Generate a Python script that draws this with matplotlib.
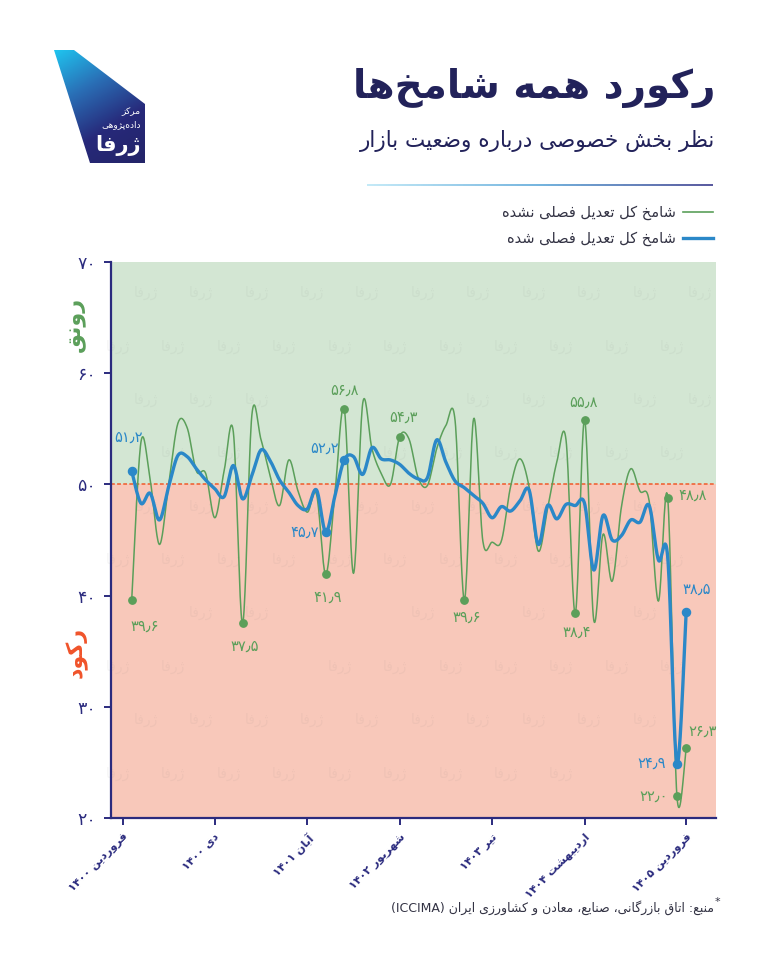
import re
import numpy as np
import matplotlib
matplotlib.use('Agg')
import matplotlib.pyplot as plt
from matplotlib.collections import LineCollection
from matplotlib.patches import Polygon
from matplotlib.colors import LinearSegmentedColormap

# month index, 0 = Farvardin 1400 ... 60 = Farvardin 1405
months = np.arange(61)

# شامخ کل تعدیل فصلی نشده
unadjusted = [39.6, 53.8, 50.4, 44.6, 50.0, 55.5, 55.1, 51.2, 51.0, 47.0,
              51.2, 54.7, 37.5, 56.2, 54.0, 50.7, 48.1, 52.2, 49.4, 47.5,
              49.1, 41.9, 49.3, 56.8, 42.0, 57.3, 53.2, 51.0, 50.0, 54.3,
              54.1, 50.6, 49.9, 53.2, 55.3, 55.7, 39.6, 55.9, 44.9, 44.8,
              44.9, 49.8, 52.3, 49.8, 44.0, 47.8, 52.0, 54.0, 38.4, 55.8,
              37.8, 45.5, 41.3, 48.0, 51.4, 49.4, 48.5, 39.5, 48.8, 22.0,
              26.3]

# شامخ کل تعدیل فصلی شده
adjusted = [51.2, 48.3, 49.2, 46.8, 49.8, 52.6, 52.5, 51.4, 50.4, 49.6,
            48.9, 51.7, 48.7, 50.8, 53.1, 52.1, 50.4, 49.3, 48.1, 47.8,
            49.5, 45.7, 49.0, 52.2, 52.5, 50.9, 53.3, 52.3, 52.2, 51.8,
            51.0, 50.5, 50.6, 54.0, 52.0, 50.3, 49.7, 49.0, 48.3, 47.0,
            48.0, 47.6, 48.5, 49.5, 44.6, 48.1, 46.9, 48.2, 48.1, 48.3,
            42.3, 47.2, 45.0, 45.4, 46.8, 46.6, 48.1, 43.2, 43.5, 24.9,
            38.5]

tick_pos = [-0.9, 9, 19, 29, 39, 49, 60]
tick_labels = ['فروردین ۱۴۰۰', 'دی ۱۴۰۰', 'آبان ۱۴۰۱', 'شهریور ۱۴۰۲',
               'تیر ۱۴۰۳', 'اردیبهشت ۱۴۰۴', 'فروردین ۱۴۰۵']

green_marks = [0, 12, 21, 23, 29, 36, 48, 49, 58, 59, 60]
blue_marks = [0, 21, 23, 59, 60]

# ---- persian shaping (no reshaper lib available) ----
FORMS = {
    'ء': ('\uFE80',),
    'آ': ('\uFE81', '\uFE82'), 'ا': ('\uFE8D', '\uFE8E'),
    'ب': ('\uFE8F', '\uFE90', '\uFE91', '\uFE92'),
    'پ': ('\uFB56', '\uFB57', '\uFB58', '\uFB59'),
    'ت': ('\uFE95', '\uFE96', '\uFE97', '\uFE98'),
    'ث': ('\uFE99', '\uFE9A', '\uFE9B', '\uFE9C'),
    'ج': ('\uFE9D', '\uFE9E', '\uFE9F', '\uFEA0'),
    'چ': ('\uFB7A', '\uFB7B', '\uFB7C', '\uFB7D'),
    'ح': ('\uFEA1', '\uFEA2', '\uFEA3', '\uFEA4'),
    'خ': ('\uFEA5', '\uFEA6', '\uFEA7', '\uFEA8'),
    'د': ('\uFEA9', '\uFEAA'), 'ذ': ('\uFEAB', '\uFEAC'),
    'ر': ('\uFEAD', '\uFEAE'), 'ز': ('\uFEAF', '\uFEB0'),
    'ژ': ('\uFB8A', '\uFB8B'),
    'س': ('\uFEB1', '\uFEB2', '\uFEB3', '\uFEB4'),
    'ش': ('\uFEB5', '\uFEB6', '\uFEB7', '\uFEB8'),
    'ص': ('\uFEB9', '\uFEBA', '\uFEBB', '\uFEBC'),
    'ض': ('\uFEBD', '\uFEBE', '\uFEBF', '\uFEC0'),
    'ط': ('\uFEC1', '\uFEC2', '\uFEC3', '\uFEC4'),
    'ظ': ('\uFEC5', '\uFEC6', '\uFEC7', '\uFEC8'),
    'ع': ('\uFEC9', '\uFECA', '\uFECB', '\uFECC'),
    'غ': ('\uFECD', '\uFECE', '\uFECF', '\uFED0'),
    'ف': ('\uFED1', '\uFED2', '\uFED3', '\uFED4'),
    'ق': ('\uFED5', '\uFED6', '\uFED7', '\uFED8'),
    'ک': ('\uFB8E', '\uFB8F', '\uFB90', '\uFB91'),
    'گ': ('\uFB92', '\uFB93', '\uFB94', '\uFB95'),
    'ل': ('\uFEDD', '\uFEDE', '\uFEDF', '\uFEE0'),
    'م': ('\uFEE1', '\uFEE2', '\uFEE3', '\uFEE4'),
    'ن': ('\uFEE5', '\uFEE6', '\uFEE7', '\uFEE8'),
    'و': ('\uFEED', '\uFEEE'),
    'ه': ('\uFEE9', '\uFEEA', '\uFEEB', '\uFEEC'),
    'ی': ('\uFBFC', '\uFBFD', '\uFBFE', '\uFBFF'),
}
LAM_ALEF = {'ا': ('\uFEFB', '\uFEFC'), 'آ': ('\uFEF5', '\uFEF6')}


def joins_next(c):
    return c in FORMS and len(FORMS[c]) == 4


def shape(s):
    res = []
    i = 0
    while i < len(s):
        c = s[i]
        jp = i > 0 and joins_next(s[i - 1])
        if c == 'ل' and i + 1 < len(s) and s[i + 1] in LAM_ALEF:
            iso, fin = LAM_ALEF[s[i + 1]]
            res.append(fin if jp else iso)
            i += 2
            continue
        if c in FORMS:
            f = FORMS[c]
            jn = len(f) == 4 and i + 1 < len(s) and s[i + 1] in FORMS
            if len(f) == 1:
                res.append(f[0])
            elif jp and jn:
                res.append(f[3])
            elif jp:
                res.append(f[1])
            elif jn:
                res.append(f[2])
            else:
                res.append(f[0])
        elif c != '\u200c':
            res.append(c)
        i += 1
    return ''.join(res)


LTR = r'[0-9A-Za-z\u06F0-\u06F9\u066B]+'


def fa(s):
    t = shape(s)
    runs = re.findall(LTR + r'|[^0-9A-Za-z\u06F0-\u06F9\u066B]+', t)
    out = []
    for r in reversed(runs):
        out.append(r if re.fullmatch(LTR, r) else r[::-1])
    return ''.join(out)


def fnum(v):
    s = f'{v:.1f}'
    return s.translate(str.maketrans('0123456789.', '۰۱۲۳۴۵۶۷۸۹٫'))


def smooth(x, y, n=20):
    # excel-like smoothed line (catmull-rom through the points)
    x = np.asarray(x, float)
    y = np.asarray(y, float)
    px = np.concatenate([[x[0]], x, [x[-1]]])
    py = np.concatenate([[y[0]], y, [y[-1]]])
    xs, ys = [], []
    t = np.linspace(0, 1, n)
    for i in range(1, len(px) - 2):
        p0 = np.array([px[i], py[i]])
        p3 = np.array([px[i + 1], py[i + 1]])
        c1 = p0 + (p3 - np.array([px[i - 1], py[i - 1]])) / 6
        c2 = p3 - (np.array([px[i + 2], py[i + 2]]) - p0) / 6
        b = ((1 - t) ** 3)[:, None] * p0 + (3 * (1 - t) ** 2 * t)[:, None] * c1 \
            + (3 * (1 - t) * t ** 2)[:, None] * c2 + (t ** 3)[:, None] * p3
        xs.append(b[:, 0])
        ys.append(b[:, 1])
    return np.concatenate(xs), np.concatenate(ys)


plt.rcParams['font.family'] = ['DejaVu Sans']
NAVY = '#2b2b7e'
GREEN = '#5b9f5a'
BLUE = '#2b88c8'
W, H = 768, 960

fig = plt.figure(figsize=(7.68, 9.6), dpi=100)

# decoration layer in pixel coords
deco = fig.add_axes([0, 0, 1, 1])
deco.set_xlim(0, W)
deco.set_ylim(H, 0)
deco.axis('off')

# logo
logo = Polygon([(54, 50), (74, 50), (145, 104), (145, 163), (90, 163)],
               closed=True, facecolor='none', edgecolor='none')
deco.add_patch(logo)
gx, gy = np.meshgrid(np.linspace(0, 1, 100), np.linspace(0, 1, 120))
grad = 0.35 * gx + 0.75 * gy
cm_logo = LinearSegmentedColormap.from_list('lg', ['#1fc4ef', '#2a6fb6', '#27297a', '#232468'])
im = deco.imshow(grad, extent=(54, 145, 163, 50), cmap=cm_logo, vmin=0, vmax=1.1,
                 aspect='auto', zorder=2)
im.set_clip_path(logo)
deco.text(141, 112, fa('مرکز'), color='white', fontsize=6.5, ha='right', va='center', zorder=3)
deco.text(141, 125, fa('داده‌پژوهی'), color='white', fontsize=6.5, ha='right', va='center', zorder=3)
deco.text(141, 145, fa('ژرفا'), color='white', fontsize=15, fontweight='bold',
          ha='right', va='center', zorder=3)

# title block
deco.text(715, 88, fa('رکورد همه شامخ‌ها'), color='#22225a', fontsize=28,
          fontweight='bold', ha='right', va='center')
deco.text(715, 141, fa('نظر بخش خصوصی درباره وضعیت بازار'), color='#22225a',
          fontsize=15.5, ha='right', va='center')

lx = np.linspace(367, 713, 200)
segs = [[(lx[i], 185), (lx[i + 1], 185)] for i in range(len(lx) - 1)]
cm_line = LinearSegmentedColormap.from_list('ln', ['#b9e6f6', '#5aa6d8', '#3a3a8c'])
deco.add_collection(LineCollection(segs, colors=cm_line(np.linspace(0, 1, len(segs))),
                                   linewidths=1.2))

# legend
deco.plot([683, 713], [212, 212], color=GREEN, lw=1.2)
deco.plot([683, 713], [238, 238], color=BLUE, lw=2.4)
deco.text(676, 212, fa('شامخ کل تعدیل فصلی نشده'), color='#333344', fontsize=10.5,
          ha='right', va='center')
deco.text(676, 238, fa('شامخ کل تعدیل فصلی شده'), color='#333344', fontsize=10.5,
          ha='right', va='center')

# side labels
deco.text(76, 324, fa('رونق'), color=GREEN, fontsize=16, fontweight='bold',
          rotation=90, ha='center', va='center')
deco.text(76, 652, fa('رکود'), color='#f0532a', fontsize=16, fontweight='bold',
          rotation=90, ha='center', va='center')

# source
deco.text(714, 908, '(ICCIMA) ' + fa('منبع: اتاق بازرگانی، صنایع، معادن و کشاورزی ایران'),
          color='#333344', fontsize=9, ha='right', va='center')
deco.text(715, 902, '*', color='#333344', fontsize=8, ha='left', va='center')

# main chart
ax = fig.add_axes([111 / W, (H - 818) / H, 605 / W, 556 / H])
ax.set_facecolor('none')
ax.set_xlim(-2.24, 63.23)
ax.set_ylim(20, 70)
ax.axhspan(50, 70, color='#d3e6d3', zorder=0, lw=0)
ax.axhspan(20, 50, color='#f8c8ba', zorder=0, lw=0)

green_off = {0: (13, -26, 'center'), 12: (2, -23, 'center'), 21: (2, -23, 'center'),
             23: (0, 19, 'center'), 29: (4, 19, 'center'), 36: (2, -17, 'center'),
             48: (1, -19, 'center'), 49: (-1, 18, 'center'), 58: (11, 2, 'left'),
             59: (-9, 0, 'right'), 60: (2, 17, 'left')}
blue_off = {0: (-3, 34, 'center'), 21: (-7, 0, 'right'), 23: (-5, 12, 'right'),
            59: (-11, 0, 'right'), 60: (11, 23, 'center')}

# label centres in data units, so the watermark keeps clear of them
lab_xy = []
for vals, offs in ((unadjusted, green_off), (adjusted, blue_off)):
    for i, (dx, dy, ha) in offs.items():
        shift = {'left': 16, 'right': -16, 'center': 0}[ha]
        lab_xy.append((months[i] + (dx + shift) / 9.24, vals[i] + dy / 11.12))

# faint watermark of the logo word
for r, yy in enumerate(np.arange(24, 70, 4.8)):
    for xx in np.arange(-1.5 + (r % 2) * 3, 63, 6):
        if any(abs(xx - lx_) < 4.5 and abs(yy - ly_) < 2.2 for lx_, ly_ in lab_xy):
            continue
        ax.text(xx, yy, fa('ژرفا'), color='#7a7a7a', alpha=0.07, fontsize=10,
                ha='center', va='center', zorder=0.5)

ax.axhline(50, color='#f05a2a', lw=1.1, ls=(0, (2.5, 1.5)), zorder=1)

sx, sy = smooth(months, unadjusted)
ax.plot(sx, sy, color=GREEN, lw=1.1, zorder=2)
bx, by = smooth(months, adjusted)
ax.plot(bx, by, color=BLUE, lw=2.4, zorder=3, solid_capstyle='round')

ax.scatter([months[i] for i in green_marks], [unadjusted[i] for i in green_marks],
           s=28, color=GREEN, zorder=4)
ax.scatter([months[i] for i in blue_marks], [adjusted[i] for i in blue_marks],
           s=34, color=BLUE, zorder=5)

for i, (dx, dy, ha) in green_off.items():
    ax.annotate(fnum(unadjusted[i]), (months[i], unadjusted[i]), xytext=(dx, dy),
                textcoords='offset pixels', ha=ha, va='center', color=GREEN,
                fontsize=10.5, zorder=6)
for i, (dx, dy, ha) in blue_off.items():
    ax.annotate(fnum(adjusted[i]), (months[i], adjusted[i]), xytext=(dx, dy),
                textcoords='offset pixels', ha=ha, va='center', color=BLUE,
                fontsize=10.5, zorder=6)

for s in ['top', 'right']:
    ax.spines[s].set_visible(False)
for s in ['left', 'bottom']:
    ax.spines[s].set_color(NAVY)
    ax.spines[s].set_linewidth(1.6)

yt = [20, 30, 40, 50, 60, 70]
ax.set_yticks(yt)
ax.set_yticklabels([str(v).translate(str.maketrans('0123456789', '۰۱۲۳۴۵۶۷۸۹')) for v in yt],
                   color=NAVY, fontsize=12.5)
ax.tick_params(axis='y', length=5, width=1.4, color=NAVY, pad=6)
ax.set_xticks(tick_pos)
ax.set_xticklabels([fa(t) for t in tick_labels], rotation=45, ha='right',
                   rotation_mode='anchor', color=NAVY, fontsize=8, fontweight='bold')
ax.tick_params(axis='x', length=5, width=1.4, color=NAVY, pad=5)

fig.savefig('out.png', dpi=100, facecolor='white')
